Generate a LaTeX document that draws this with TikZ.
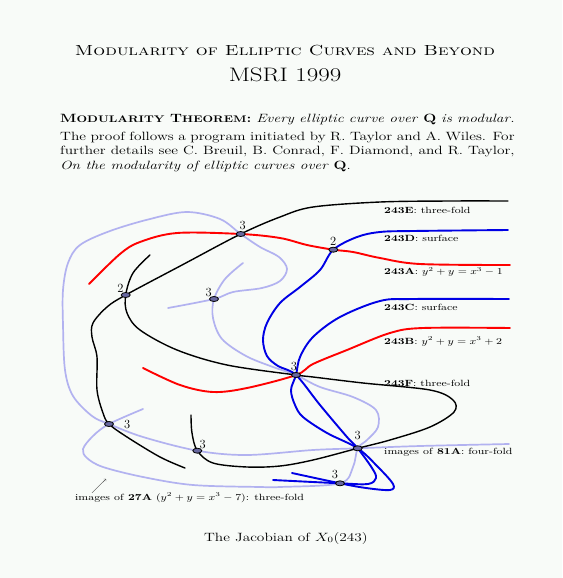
\RequirePackage{fix-cm}
\documentclass[tikz,border=0pt]{standalone}
\usepackage{amsmath,amssymb}
\usepackage{graphicx}
\usetikzlibrary{positioning,shapes.geometric,backgrounds}

\definecolor{lav}{RGB}{178,178,240}
\definecolor{paper}{RGB}{248,251,248}
\definecolor{navy}{RGB}{40,40,120}

\newcommand{\wide}[1]{\scalebox{1.28}[1]{#1}}

\tikzset{
  curve/.style={line width=1.4pt, line cap=round},
  blk/.style={curve, black},
  rd/.style={curve, red, line width=1.9pt},
  bl/.style={curve, blue!90!black, line width=1.9pt},
  lv/.style={curve, lav, line width=1.7pt},
  pt/.style={ellipse, draw=black, fill=navy!70, line width=0.8pt,
    minimum width=9pt, minimum height=5pt, inner sep=0pt},
  num/.style={font=\fontsize{12.5}{12.5}\selectfont, inner sep=1pt},
  tag/.style={anchor=west, font=\fontsize{9}{10}\selectfont, inner sep=0pt},
}

\begin{document}
\begin{tikzpicture}[x=1pt, y=-1pt]
  \useasboundingbox (0,0) rectangle (562,578);

  % heading
  \node[anchor=base] (title) at (285,56)
    {\wide{\fontsize{14.6}{16}\selectfont\textsc{Modularity of Elliptic Curves and Beyond}}};
  \node[below=4pt of title] (msri) {\wide{\fontsize{19.5}{22}\selectfont MSRI 1999}};
  \node[anchor=base west, inner sep=0pt] (intro) at (60,122) {\wide{\parbox[t]{355pt}{%
    \fontsize{12}{14.5}\selectfont
    \makebox[355pt][s]{\textbf{M{\fontsize{9.6}{10}\selectfont ODULARITY}
      T{\fontsize{9.6}{10}\selectfont HEOREM}:} \textit{Every elliptic curve over}
      $\mathbf{Q}$ \textit{is modular.}}\\[3.5pt]
    The proof follows a program initiated by R.~Taylor and A.~Wiles. For\linebreak
    further details see C.~Breuil, B.~Conrad, F.~Diamond, and R.~Taylor,\linebreak
    \textit{On the modularity of elliptic curves over} $\mathbf{Q}$.}}};

  % crossing points
  \node[pt, label={[num, xshift=2pt]above:3}] (top3) at (240.7,234) {};
  \node[pt, label={[num, label distance=-2pt]above left:2}] (lt2) at (125.7,295) {};
  \node[pt, label={[num, label distance=-2pt]above left:3}] (mid3) at (214,299) {};
  \node[pt, label={[num]above:2}] (rt2) at (333.3,249.7) {};
  \node[pt, label={[num, xshift=-2pt]above:3}] (ctr3) at (296,375) {};
  \node[pt, label={[num, label distance=9pt]right:3}] (ll3) at (109,424) {};
  \node[pt, label={[num, label distance=-2pt]above right:3}] (lm3) at (197.3,450.7) {};
  \node[pt, label={[num, label distance=4pt]above:3}] (lr3) at (357.7,448.3) {};
  \node[pt, label={[num, xshift=-5pt]above:3}] (bt3) at (340,483.3) {};

  % right ends
  \coordinate (eE) at (508,201);
  \coordinate (eD) at (508,230);
  \coordinate (eA) at (510,265);
  \coordinate (eC) at (509,299);
  \coordinate (eB) at (510,328);
  \coordinate (e81) at (509,444);

  \node[tag] (lE) at (384,210) {\wide{\textbf{243E}: three-fold}};
  \node[tag] (lD) at (384,238.5) {\wide{\textbf{243D}: surface}};
  \node[tag] (lA) at (384,272) {\wide{\textbf{243A}: $y^2+y=x^3-1$}};
  \node[tag] (lC) at (384,307.5) {\wide{\textbf{243C}: surface}};
  \node[tag] (lB) at (384,341.5) {\wide{\textbf{243B}: $y^2+y=x^3+2$}};
  \node[tag] (lF) at (384,383) {\wide{\textbf{243F}: three-fold}};
  \node[tag] (l81) at (384,452.5) {\wide{images of \textbf{81A}: four-fold}};
  \node[tag] (l27) at (75,498) {\wide{images of \textbf{27A} ($y^2+y=x^3-7$): three-fold}};
  \coordinate (p27) at (106,479);
  \draw[thin, black!70, ->] ([xshift=17pt]l27.north west) -- (p27);

  \node[anchor=base] (jac) at (286,541)
    {\wide{\fontsize{12}{14}\selectfont The Jacobian of $X_0(243)$}};

  \begin{scope}[on background layer]
    \fill[paper] (0,0) rectangle (562,578);
    % images of 27A and 81A
    \draw[lv] plot[smooth, tension=.55] coordinates {(168,308) (mid3.center) (233,292)
      (262,288) (280,281) (287,269) (279,257) (260,247) (top3.center) (220,219) (187,212)
      (150,219) (110,231) (80,245) (68,263) (63,290) (63,325) (65,370) (73,396) (92,416)
      (ll3.center) (143,437) (lm3.center) (247,455) (313,450) (lr3.center) (420,446) (e81)};
    \draw[lv] plot[smooth, tension=.55] coordinates {(243,263) (225,279) (mid3.center)
      (213,318) (222,339) (246,356) (273,367) (ctr3.center) (320,387) (353,397) (376,410)
      (378,427) (367,440) (lr3.center) (353,467) (bt3.center) (280,487) (260,487) (193,485)
      (143,477) (103,467) (87,458) (83,449) (93,436) (ll3.center) (143,409)};
    % three-folds
    \draw[blk] plot[smooth, tension=.55] coordinates {(eE) (450,201) (380,202) (313,207)
      (280,217) (top3.center) (183,264.5) (lt2.center) (107,307) (93,323) (92,337) (97,357)
      (97,390) (103,413) (ll3.center) (127,437) (160,457) (185,468)};
    \draw[blk] plot[smooth, tension=.55] coordinates {(150,255) (133,273) (lt2.center)
      (127,313) (140,330) (177,350) (227,365) (ctr3.center) (313,377) (363,383) (430,390)
      (453,400) (454,412) (430,427) (390,440) (lr3.center) (313,460) (280,466) (247,467)
      (213,463) (lm3.center) (192,433) (191,415)};
    % curves
    \draw[rd] plot[smooth, tension=.55] coordinates {(eA) (420,264) (380,258) (353,252)
      (rt2.center) (307,245) (280,238) (top3.center) (177,233) (140,242) (120,254) (89,284)};
    \draw[rd] plot[smooth, tension=.55] coordinates {(eB) (423,328) (390,333) (347,350)
      (313,364) (ctr3.center) (247,388) (213,392) (180,385) (143,368)};
    % surfaces
    \draw[bl] plot[smooth, tension=.55] coordinates {(eD) (413,231) (380,232) (357,237)
      (rt2.center) (320,270) (300,287) (280,303) (267,323) (263,340) (267,356) (278,366)
      (ctr3.center) (320,405) (347,437) (lr3.center) (372,468) (376,478) (368,484)
      (bt3.center) (273,480)};
    \draw[bl] plot[smooth, tension=.55] coordinates {(eC) (413,299) (380,301) (340,317)
      (313,337) (300,357) (ctr3.center) (291,390) (295,405) (303,417) (327,433)
      (lr3.center) (378,467) (393,484) (390,490) (366,488) (bt3.center) (292,473)};
  \end{scope}
\end{tikzpicture}
\end{document}
